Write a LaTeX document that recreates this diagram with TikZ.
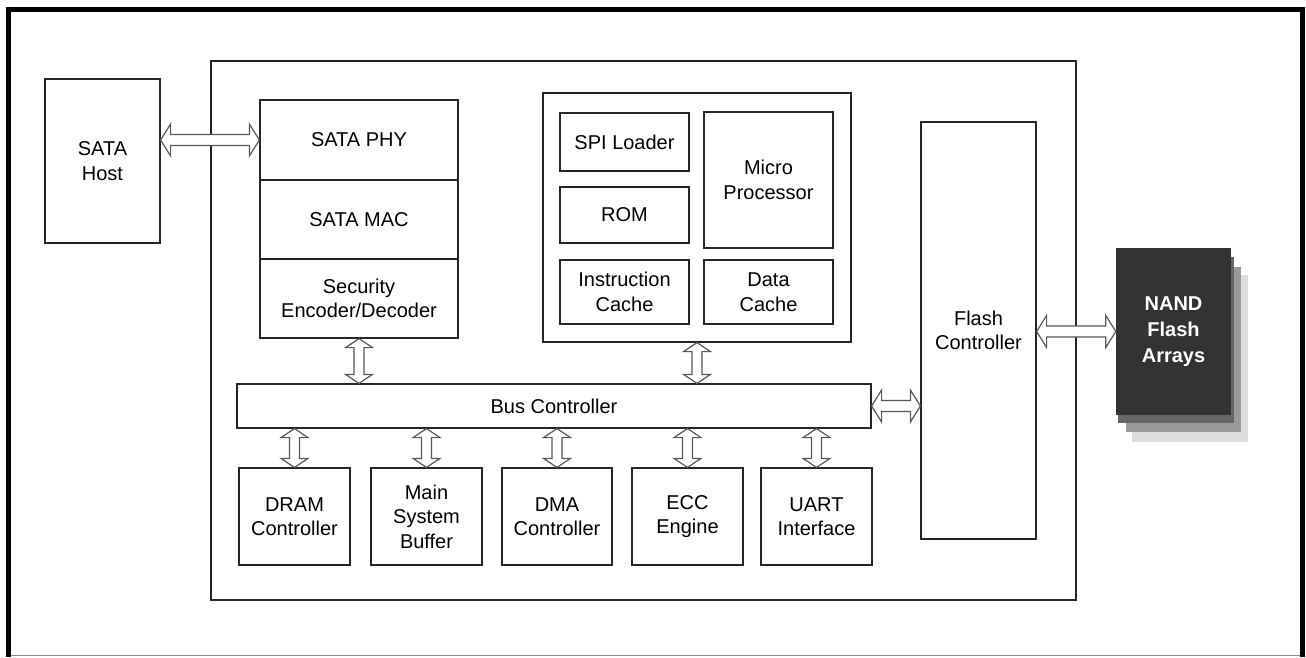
\documentclass[tikz,border=0pt]{standalone}
\usepackage{fontspec}
\setmainfont{Liberation Sans}
\usetikzlibrary{calc}
\definecolor{nandfront}{HTML}{333333}
\definecolor{nandl2}{HTML}{666666}
\definecolor{nandl3}{HTML}{999999}
\definecolor{nandl4}{HTML}{DDDDDD}
\tikzset{
  blk/.style={draw=black!85, line width=1.2pt, fill=white, inner sep=0pt, align=center,
    font=\fontsize{20}{24.5}\selectfont},
  dar/.style={draw=black!65, line width=1.2pt, fill=white, line join=miter},
}
\newcommand\harr[2]{\draw[dar] let \p1=(#1), \p2=(#2) in
  (\x1,\y1) -- (\x1+10pt,\y1+16pt) -- (\x1+10pt,\y1+5.5pt) -- (\x2-10pt,\y1+5.5pt) -- (\x2-10pt,\y1+16pt)
  -- (\x2,\y1) -- (\x2-10pt,\y1-16pt) -- (\x2-10pt,\y1-5.5pt) -- (\x1+10pt,\y1-5.5pt) -- (\x1+10pt,\y1-16pt) -- cycle;}
\newcommand\varr[2]{\draw[dar] let \p1=(#1), \p2=(#2) in
  (\x1,\y1) -- (\x1+13.5pt,\y1-9pt) -- (\x1+5pt,\y1-9pt) -- (\x1+5pt,\y2+9pt) -- (\x1+13.5pt,\y2+9pt)
  -- (\x1,\y2) -- (\x1-13.5pt,\y2+9pt) -- (\x1-5pt,\y2+9pt) -- (\x1-5pt,\y1-9pt) -- (\x1-13.5pt,\y1-9pt) -- cycle;}
\newcommand\bx[6]{\node[blk, minimum width={(#4)-(#2)}, minimum height={(#5)-(#3)}] (#1) at ({((#2)+(#4))/2},{((#3)+(#5))/2}) {#6};}
\begin{document}
\begin{tikzpicture}[x=1pt,y=-1pt]
\useasboundingbox (0,0) rectangle (1306,657);
\fill[white] (0,0) rectangle (1306,657);
% outer frame
\draw[black, line width=5pt, line join=miter] (8.5,657) -- (8.5,9.5) -- (1302.5,9.5) -- (1302.5,657);
\draw[black!45, line width=1pt] (11,655.5) -- (1300,655.5);
% chip outline
\node[draw=black!85, line width=1.2pt, minimum width=865pt, minimum height=539pt, inner sep=0pt] (chip) at (643.5,330.5) {};
% host
\bx{host}{45}{79}{160}{243}{SATA\\Host}
% SATA stack
\bx{phy}{260}{100}{458}{180}{SATA PHY}
\bx{mac}{260}{180}{458}{259}{SATA MAC}
\bx{sec}{260}{259}{458}{338}{Security\\Encoder/Decoder}
% CPU block
\bx{cpu}{543}{93}{851}{342}{}
\bx{spi}{560}{113}{689}{171}{SPI Loader}
\bx{rom}{560}{187}{689}{243}{ROM}
\bx{mpu}{704}{112}{833}{248}{Micro\\Processor}
\bx{icache}{560}{260}{689}{324}{Instruction\\Cache}
\bx{dcache}{704}{260}{833}{324}{Data\\Cache}
% flash controller
\bx{flash}{921}{122}{1036}{539}{Flash\\Controller}
% bus
\bx{bus}{237}{384}{871}{428}{Bus Controller}
% bottom blocks
\bx{dram}{239}{468}{350}{565}{DRAM\\Controller}
\bx{msb}{371}{468}{482}{565}{Main\\System\\Buffer}
\bx{dma}{502}{468}{612}{565}{DMA\\Controller}
\bx{ecc}{632}{468}{743}{565}{ECC\\Engine}
\bx{uart}{761}{468}{872}{565}{UART\\Interface}
% NAND stack
\fill[nandl4] (1132,275) rectangle (1248,442);
\fill[nandl3] (1126,267) rectangle (1241,432);
\fill[nandl2] (1118,257) rectangle (1234,423);
\node[fill=nandfront, text=white, inner sep=0pt, minimum width=115pt, minimum height=167pt, align=center,
  font=\fontsize{20}{26}\selectfont\bfseries] (nand) at (1173.5,331.5) {NAND\\Flash\\Arrays};
% connectors
\harr{host.east |- phy.west}{phy.west}
\harr{bus.east}{flash.west |- bus.east}
\harr{flash.east |- nand.west}{nand.west}
\varr{sec.south}{sec.south |- bus.north}
\varr{cpu.south}{cpu.south |- bus.north}
\varr{bus.south -| dram.north}{dram.north}
\varr{bus.south -| msb.north}{msb.north}
\varr{bus.south -| dma.north}{dma.north}
\varr{bus.south -| ecc.north}{ecc.north}
\varr{bus.south -| uart.north}{uart.north}
\end{tikzpicture}
\end{document}
